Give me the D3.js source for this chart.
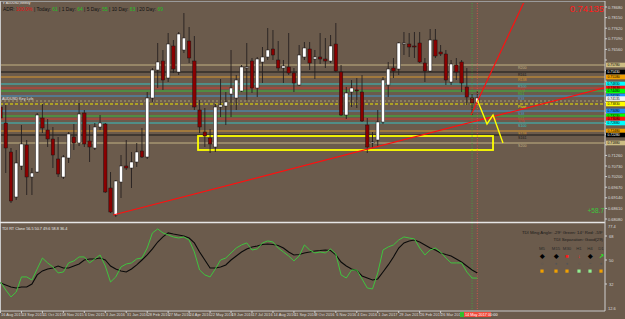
<!DOCTYPE html>
<html>
<head>
<meta charset="utf-8">
<script src="https://cdn.jsdelivr.net/npm/d3@7"></script>
<style>
body { margin: 0; background: #6b5b4c; }
svg { display: block; font-family: "Liberation Sans", Arial, sans-serif; }
</style>
</head>
<body>
<svg id="chart" width="625" height="319"></svg>
<script>
// weekly AUDUSD candles, index 0 = partially visible first bar
var opens = [0.7368,0.7288,0.7143,0.6918,0.7073,0.7178,0.7018,0.7043,0.7313,0.7253,0.7208,0.7108,0.7018,0.7113,0.7218,0.7188,0.7338,0.7198,0.7163,0.7268,
  0.7283,0.6963,0.6828,0.6993,0.7073,0.7063,0.7093,0.7148,0.7118,0.7413,0.7553,0.7598,0.7513,0.7673,0.7543,0.7653,0.7698,0.7598,0.7353,0.7243,
  0.7213,0.7168,0.7368,0.7373,0.7433,0.7413,0.7448,0.7563,0.7598,0.7463,0.7593,0.7618,0.7658,0.7603,0.7563,0.7568,0.7538,0.7478,0.7618,0.7658,
  0.7608,0.7618,0.7608,0.7598,0.7683,0.7543,0.7328,0.7443,0.7453,0.7443,0.7278,0.7188,0.7203,0.7293,0.7478,0.7563,0.7558,0.7683,0.7683,0.7673,
  0.7688,0.7588,0.7548,0.7703,0.7643,0.7633,0.7493,0.7578,0.7593,0.7468,0.7413,0.7388];
var highs = [0.7383,0.7378,0.7163,0.7153,0.7278,0.7203,0.7063,0.7338,0.7383,0.7308,0.7268,0.7218,0.7128,0.7243,0.7283,0.7388,0.7353,0.7278,0.7288,0.7328,
  0.7288,0.7043,0.7003,0.7128,0.7203,0.7143,0.7188,0.7263,0.7443,0.7563,0.7688,0.7653,0.7738,0.7703,0.7743,0.7838,0.7768,0.7723,0.7403,0.7363,
  0.7258,0.7383,0.7508,0.7443,0.7653,0.7528,0.7578,0.7688,0.7613,0.7618,0.7668,0.7763,0.7753,0.7698,0.7603,0.7738,0.7563,0.7678,0.7693,0.7693,
  0.7653,0.7738,0.7713,0.7728,0.7788,0.7578,0.7468,0.7503,0.7513,0.7528,0.7313,0.7243,0.7353,0.7518,0.7593,0.7613,0.7693,0.7743,0.7738,0.7743,
  0.7743,0.7613,0.7758,0.7758,0.7678,0.7653,0.7603,0.7613,0.7603,0.7563,0.7433,0.7448];
var lows = [0.7303,0.7038,0.6888,0.6903,0.7053,0.6928,0.6928,0.7038,0.7238,0.7168,0.7063,0.7018,0.7008,0.7088,0.7153,0.7173,0.7168,0.7093,0.7153,0.7253,
  0.6938,0.6838,0.6818,0.6913,0.7053,0.6963,0.7068,0.7113,0.7108,0.7393,0.7463,0.7453,0.7493,0.7538,0.7528,0.7638,0.7588,0.7353,0.7238,0.7168,
  0.7138,0.7143,0.7318,0.7278,0.7318,0.7353,0.7443,0.7403,0.7438,0.7418,0.7488,0.7603,0.7603,0.7548,0.7488,0.7528,0.7443,0.7473,0.7603,0.7553,
  0.7508,0.7583,0.7563,0.7588,0.7543,0.7323,0.7308,0.7368,0.7363,0.7293,0.7138,0.7163,0.7168,0.7283,0.7418,0.7513,0.7528,0.7628,0.7618,0.7613,
  0.7588,0.7493,0.7543,0.7613,0.7623,0.7478,0.7478,0.7503,0.7443,0.7378,0.7328,0.7383];
var closes = [0.7313,0.7163,0.6898,0.7088,0.7183,0.7018,0.7038,0.7328,0.7263,0.7208,0.7128,0.7033,0.7118,0.7233,0.7188,0.7333,0.7183,0.7168,0.7268,0.7288,
  0.6943,0.6843,0.6998,0.7073,0.7063,0.7093,0.7143,0.7118,0.7413,0.7553,0.7593,0.7503,0.7683,0.7558,0.7733,0.7713,0.7613,0.7368,0.7268,0.7223,
  0.7183,0.7368,0.7378,0.7393,0.7463,0.7503,0.7568,0.7568,0.7463,0.7608,0.7618,0.7653,0.7628,0.7563,0.7573,0.7538,0.7488,0.7628,0.7663,0.7588,
  0.7618,0.7608,0.7598,0.7673,0.7548,0.7328,0.7438,0.7463,0.7448,0.7298,0.7168,0.7193,0.7293,0.7503,0.7558,0.7548,0.7688,0.7688,0.7668,0.7670,
  0.7593,0.7548,0.7703,0.7623,0.7633,0.7503,0.7583,0.7543,0.7488,0.7418,0.7388,0.74135];

// TDI lines in the lower window
var tdiGreen = [33.5,27.5,22.3,26,37.3,37.3,35,43.3,51.5,47.8,44.8,40.3,41,47.8,49.3,52.3,52.3,47.8,50.8,53.8,
  45.5,33.5,37.3,44.8,47,47.8,50.8,51.5,59,70.3,73.3,70.3,68.8,67.3,66.5,67.3,65,56,42.5,38.8,
  37.3,43.3,50,51.5,55.3,59,61.3,62.8,57.5,58.3,62.8,64.3,63.5,59,56,53,49.3,53,61.3,57.5,
  55.3,56,55.3,58.3,54.5,38.8,36.5,42.5,42.5,35.8,29,28.3,40.3,57.5,59.8,61.3,65,67.3,66.5,65.8,
  59,53.8,57.5,59,56,51.5,47.8,47.8,47.8,41,36.5,36.4];
var tdiSignal = [32.8,31.3,29.8,29,29.8,29.8,32,38.8,41.8,43.3,44,45.5,44,44,45.5,47,50,50.8,50.8,51.5,
  50,45.5,43.3,41.8,41,43.3,46.3,50,53.8,58.3,63.5,67.3,70.3,69.5,68.8,68,66.5,62.8,56,50,
  44,44,44.8,46.3,50,53,56,58.3,59.8,60.5,61.6,62,61.6,60.9,59,56,53.8,54.1,55.3,56,
  56.8,57.1,57.5,57.1,53.8,48.5,45.5,43.3,42.1,38,36.5,35,35.8,41,46.3,52.3,59,62.8,64.3,65,
  63.5,61.3,59,57.5,55.3,54.1,53,50.8,48.5,45.5,42.5,40.3];

var dateLabels = ["16 Aug 2015","13 Sep 2015","11 Oct 2015","8 Nov 2015","6 Dec 2015","3 Jan 2016","31 Jan 2016",
  "28 Feb 2016","27 Mar 2016","24 Apr 2016","22 May 2016","19 Jun 2016","17 Jul 2016","14 Aug 2016","11 Sep 2016",
  "9 Oct 2016","6 Nov 2016","4 Dec 2016","1 Jan 2017","29 Jan 2017","26 Feb 2017","26 Mar 2017"];
var priceTicks = [0.7868,0.7815,0.7762,0.7709,0.7656,0.7603,0.7550,0.7497,0.7444,0.7391,0.7338,0.7285,0.7232,
  0.7179,0.7126,0.7073,0.7020,0.6967,0.6914,0.6861,0.6808];
var tdiTicks = [68, 50, 32];

// weekly fib pivot levels
var levelNames  = ["R200","R161","R138","R100","R78","R61","R38","Pivot","S38","S61","S78","S100","S138","S161","S200"];
var levelPrices = [0.7578,0.7543,0.7518,0.7483,0.7463,0.7448,0.7423,0.7383,0.7348,0.7323,0.7308,0.7288,0.7248,0.7228,0.7188];
var keyLevel = 0.7398;
var bid = 0.74135;

// drawn objects: [bar index, price]
var trendA = [[21.5, 0.6828], [115.4, 0.7465]];
var trendB = [[89.8, 0.7328], [100.1, 0.7903]];
var projection = [[91, 0.7403], [92.85, 0.7283], [94, 0.7328], [95.9, 0.7188]];
var zoneBox = [[37.7, 0.7223], [94, 0.7153]];

var tfNames = ["M5","M15","M30","H1","H4","D1"];
var tfTrend = ["◆","◆","■","↓","◆","↗"];
var tfState = ["○","●","●","○","~","●"];
var tfBox = ["orange","orange","orange","lightgreen","lightgreen","orange"];

var lineCol = {R200:"#c4b383",R161:"#161616",R138:"#d9982e",R100:"#36c2c2",R78:"#d33a30",R61:"#38bb38",R38:"#3f97cf",Pivot:"#f0e800"};
var tagCol  = {R200:"#cdbd83",R161:"#000000",R138:"#f0a000",R100:"#00ffff",R78:"#ff1010",R61:"#00ff00",R38:"#1e90ff",Pivot:"#ffff00"};
function baseName(n) { return n.replace("S", "R"); }

var svg = d3.select("#chart");
var plotR = 605;

var x = d3.scaleLinear().domain([0, 91]).range([0.5, 477.3]);
var y = d3.scaleLinear().domain([0.6793, 0.7888]).range([222, 3]);
var yT = d3.scaleLinear().domain([12.5, 77]).range([310, 224]);

var defs = svg.append("defs");
defs.append("clipPath").attr("id", "mainClip").append("rect")
  .attr("x", 0).attr("y", 3).attr("width", plotR).attr("height", 219);
defs.append("clipPath").attr("id", "lowClip").append("rect")
  .attr("x", 0).attr("y", 224).attr("width", plotR).attr("height", 87);

svg.append("rect").attr("width", 625).attr("height", 319).attr("fill", "#6b5b4c");

var main = svg.append("g").attr("clip-path", "url(#mainClip)");

// level lines
levelNames.forEach(function(n, i) {
  var b = baseName(n);
  main.append("line")
    .attr("x1", 0).attr("x2", plotR)
    .attr("y1", y(levelPrices[i])).attr("y2", y(levelPrices[i]))
    .attr("stroke", lineCol[b]).attr("stroke-width", 1)
    .attr("stroke-dasharray", n == "Pivot" ? "3,2" : null);
  main.append("text")
    .attr("x", 518).attr("y", y(levelPrices[i]) + 3.6)
    .attr("font-size", 3.6).attr("fill", lineCol[b])
    .text(n);
});
main.append("line")
  .attr("x1", 0).attr("x2", plotR)
  .attr("y1", y(keyLevel)).attr("y2", y(keyLevel))
  .attr("stroke", "#a8a070").attr("stroke-width", 1).attr("stroke-dasharray", "2,2");
main.append("text").attr("x", 2).attr("y", y(keyLevel) - 1.5)
  .attr("font-size", 3.8).attr("fill", "#e8e8e8").text("AUDUSD Key Lvls");

// zone box
main.append("rect")
  .attr("x", x(zoneBox[0][0])).attr("y", y(zoneBox[0][1]))
  .attr("width", x(zoneBox[1][0]) - x(zoneBox[0][0]))
  .attr("height", y(zoneBox[1][1]) - y(zoneBox[0][1]))
  .attr("fill", "none").attr("stroke", "#ffff00").attr("stroke-width", 1.8);

// candles
var bars = main.append("g").selectAll("g").data(d3.range(opens.length)).enter().append("g");
bars.append("line")
  .attr("x1", function(i) { return x(i); }).attr("x2", function(i) { return x(i); })
  .attr("y1", function(i) { return y(highs[i]); }).attr("y2", function(i) { return y(lows[i]); })
  .attr("stroke", "#262020").attr("stroke-width", 0.9);
bars.append("rect")
  .attr("x", function(i) { return x(i) - 1.7; })
  .attr("y", function(i) { return y(Math.max(opens[i], closes[i])); })
  .attr("width", 3.4)
  .attr("height", function(i) { return Math.max(1, Math.abs(y(opens[i]) - y(closes[i]))); })
  .attr("fill", function(i) { return closes[i] >= opens[i] ? "#ffffff" : "#8b0000"; })
  .attr("stroke", "#1a1414").attr("stroke-width", 0.5);

// trend lines and projection
var line = d3.line().x(function(d) { return x(d[0]); }).y(function(d) { return y(d[1]); });
main.append("path").attr("d", line(trendA)).attr("fill", "none").attr("stroke", "#ff1010").attr("stroke-width", 1.2);
main.append("path").attr("d", line(trendB)).attr("fill", "none").attr("stroke", "#ff1010").attr("stroke-width", 1.2);
main.append("path").attr("d", line(projection)).attr("fill", "none").attr("stroke", "#ffff00").attr("stroke-width", 1.4);

// time markers
[[90, "#3fae3f"], [91, "#e85050"]].forEach(function(m) {
  svg.append("line").attr("x1", x(m[0])).attr("x2", x(m[0])).attr("y1", 3).attr("y2", 311)
    .attr("stroke", m[1]).attr("stroke-width", 0.8).attr("stroke-dasharray", "1,1.5");
});

// header texts
var hdr = svg.append("text").attr("x", 3).attr("y", 10.5).attr("font-size", 4.9);
[["ADR: ", "#111"], ["100.0%", "#e01010"], [" | Today: ", "#111"], ["61", "#22c022"],
 [" | 1 Day: ", "#111"], ["64", "#22c022"], [" | 5 Day: ", "#111"], ["55", "#22c022"],
 [" | 10 Day: ", "#111"], ["63", "#22c022"], [" | 20 Day: ", "#111"], ["69", "#22c022"]]
.forEach(function(p) { hdr.append("tspan").attr("fill", p[1]).text(p[0]); });
svg.append("text").attr("x", 3).attr("y", 4.4).attr("font-size", 3.2).attr("fill", "#eee").text("▾ AUDUSD,Weekly");
svg.append("text").attr("x", 604).attr("y", 213).attr("text-anchor", "end")
  .attr("font-size", 6.5).attr("fill", "#3cc83c").text("+58.7");

// frame
svg.append("line").attr("x1", 0).attr("x2", plotR).attr("y1", 1.5).attr("y2", 1.5).attr("stroke", "#9a9a9a").attr("stroke-width", 1);
svg.append("line").attr("x1", 0.5).attr("x2", 0.5).attr("y1", 1).attr("y2", 311).attr("stroke", "#c8c8c8").attr("stroke-width", 1);
svg.append("line").attr("x1", 0).attr("x2", plotR).attr("y1", 222.5).attr("y2", 222.5).attr("stroke", "#e6e6e6").attr("stroke-width", 1.5);
svg.append("line").attr("x1", 0).attr("x2", plotR).attr("y1", 311).attr("y2", 311).attr("stroke", "#c8c8c8").attr("stroke-width", 1);
svg.append("line").attr("x1", plotR).attr("x2", plotR).attr("y1", 1).attr("y2", 311).attr("stroke", "#d0d0d0").attr("stroke-width", 1);

// price axis: plain ticks, except where a level tag covers them
var tagPrices = levelPrices.concat([bid]);
var freeTicks = priceTicks.filter(function(p) {
  return tagPrices.every(function(q) { return Math.abs(y(p) - y(q)) > 5; });
});
var pAxis = svg.append("g").attr("font-size", 4).attr("fill", "#dedede");
priceTicks.forEach(function(p) {
  pAxis.append("line").attr("x1", plotR).attr("x2", plotR + 2).attr("y1", y(p)).attr("y2", y(p)).attr("stroke", "#d0d0d0");
});
freeTicks.forEach(function(p) {
  pAxis.append("text").attr("x", plotR + 3).attr("y", y(p) + 1.5).text(d3.format(".5f")(p));
});
levelNames.forEach(function(n, i) {
  var b = baseName(n);
  var g = svg.append("g").attr("transform", "translate(" + (plotR + 1) + "," + (y(levelPrices[i]) - 2.3) + ")");
  g.append("rect").attr("width", 19).attr("height", 4.6).attr("fill", tagCol[b]);
  g.append("text").attr("x", 1.5).attr("y", 3.7).attr("font-size", 3.4)
    .attr("fill", b == "R161" ? "#fff" : "#000").text(d3.format(".5f")(levelPrices[i]));
});
var bidTag = svg.append("g").attr("transform", "translate(" + (plotR + 1) + "," + (y(bid) - 1.6) + ")");
bidTag.append("rect").attr("width", 19).attr("height", 4.6).attr("fill", "#f4f4f4");
bidTag.append("text").attr("x", 1.5).attr("y", 3.7).attr("font-size", 3.4).attr("fill", "#000").text(d3.format(".5f")(bid));

svg.append("text").attr("x", 604).attr("y", 11.5).attr("text-anchor", "end")
  .attr("font-size", 9.5).attr("fill", "#ff1a1a").text(d3.format(".5f")(bid));

// lower TDI window
var low = svg.append("g").attr("clip-path", "url(#lowClip)");
var tline = d3.line().x(function(d, i) { return x(i); }).y(function(d) { return yT(d); });
low.append("path").attr("d", tline(tdiSignal)).attr("fill", "none").attr("stroke", "#0a0a0a").attr("stroke-width", 1.1);
low.append("path").attr("d", tline(tdiGreen)).attr("fill", "none").attr("stroke", "#3fc43f").attr("stroke-width", 1);
svg.append("text").attr("x", 2).attr("y", 229.5).attr("font-size", 3.8).attr("fill", "#e8e8e8")
  .text("TDI RT Clone 56.5 50.7 49.6 58.8 36.4");

var tAxis = svg.append("g").attr("font-size", 4).attr("fill", "#dedede");
tdiTicks.forEach(function(v) {
  tAxis.append("line").attr("x1", plotR).attr("x2", plotR + 2).attr("y1", yT(v)).attr("y2", yT(v)).attr("stroke", "#d0d0d0");
  tAxis.append("text").attr("x", plotR + 4).attr("y", yT(v) + 1.5).text(v);
});
tAxis.append("text").attr("x", plotR + 3).attr("y", 228).text("77.4");
tAxis.append("text").attr("x", plotR + 3).attr("y", 310).text("12.6");

// MTF table
svg.append("text").attr("x", 603).attr("y", 234).attr("text-anchor", "end").attr("font-size", 4.3).attr("fill", "#1a1a1a")
  .text("TDI Ming Angle: -29° Green: 14° Red: -59°");
svg.append("text").attr("x", 603).attr("y", 240.5).attr("text-anchor", "end").attr("font-size", 4.3).attr("fill", "#1a1a1a")
  .text("TDI Separation: Good(29)");
var tfX = [542, 556, 567, 579, 590, 601];
tfNames.forEach(function(n, i) {
  svg.append("text").attr("x", tfX[i]).attr("y", 249.5).attr("text-anchor", "middle").attr("font-size", 4.3).attr("fill", "#2a2a2a").text(n);
  var c = i == 2 || i == 3 ? "#ff1a1a" : (i == 5 ? "#22ee22" : "#000");
  svg.append("text").attr("x", tfX[i]).attr("y", 258).attr("text-anchor", "middle").attr("font-size", 5.5).attr("font-weight", "bold").attr("fill", c).text(tfTrend[i]);
  svg.append("text").attr("x", tfX[i]).attr("y", 265).attr("text-anchor", "middle").attr("font-size", 4.5).attr("fill", "#555").text(tfState[i]);
  svg.append("rect").attr("x", tfX[i] - 1.6).attr("y", 269.5).attr("width", 3.2).attr("height", 3.2)
    .attr("fill", tfBox[i] == "orange" ? "#f0a000" : "#90ee90");
});

// date axis
var dAxis = svg.append("g").attr("font-size", 3.9).attr("fill", "#dedede");
dateLabels.forEach(function(t, k) {
  dAxis.append("text").attr("x", x(k * 4) + 0.5).attr("y", 316).text(t);
  dAxis.append("line").attr("x1", x(k * 4)).attr("x2", x(k * 4)).attr("y1", 311).attr("y2", 313).attr("stroke", "#d0d0d0");
});
svg.append("rect").attr("x", 460).attr("y", 312).attr("width", 4).attr("height", 5).attr("fill", "#2ec02e");
svg.append("rect").attr("x", 464).attr("y", 312).attr("width", 27).attr("height", 5).attr("fill", "#f04a3a");
svg.append("text").attr("x", 465).attr("y", 316).attr("font-size", 3.8).attr("fill", "#fff").text("14 May 2017 00:00");
</script>
</body>
</html>
